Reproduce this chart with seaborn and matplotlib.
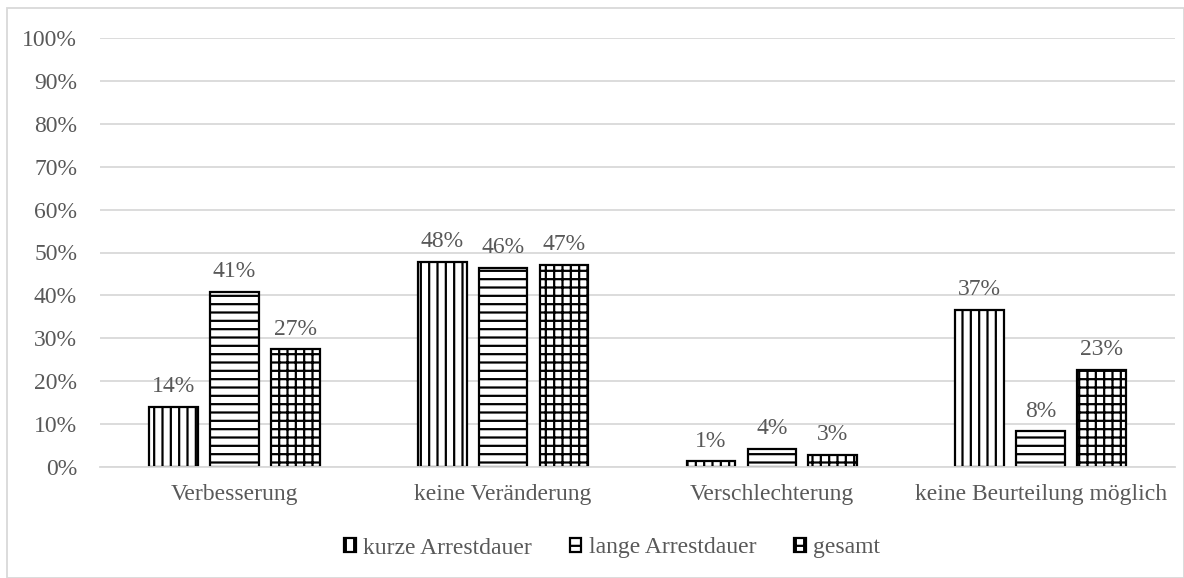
import matplotlib
matplotlib.use("Agg")
import matplotlib.pyplot as plt
import seaborn as sns
import pandas as pd
from matplotlib.patches import Rectangle

categories = ["Verbesserung", "keine Veränderung", "Verschlechterung", "keine Beurteilung möglich"]
groups = ["kurze Arrestdauer", "lange Arrestdauer", "gesamt"]
kurze = [14.1, 47.9, 1.3, 36.6]
lange = [40.8, 46.4, 4.2, 8.3]
gesamt = [27.4, 47.2, 2.8, 22.6]
yticks = list(range(0, 101, 10))

df = pd.DataFrame({
    "Kategorie": categories * 3,
    "Gruppe": [g for g in groups for _ in categories],
    "Wert": kurze + lange + gesamt,
})

sns.set_theme(style="white")
plt.rcParams["font.family"] = ["Liberation Serif", "DejaVu Serif"]
plt.rcParams["hatch.linewidth"] = 1.6
plt.rcParams["hatch.color"] = "black"

text_color = "#595959"
grid_color = "#d9d9d9"
fs = 17

fig = plt.figure(figsize=(11.84, 5.78), dpi=100)
ax = fig.add_axes([100 / 1184, 1 - 467 / 578, 1075 / 1184, (467 - 38) / 578])

sns.barplot(data=df, x="Kategorie", y="Wert", hue="Gruppe", order=categories,
            hue_order=groups, palette=["white"] * 3, edgecolor="black",
            linewidth=1.6, width=0.68, gap=0.2, ax=ax, legend=False)

hatches = ["||", "--", "++"]
for container, h in zip(ax.containers, hatches):
    for bar in container:
        bar.set_hatch(h)
    labels = [f"{v:.0f}%" for v in container.datavalues]
    ax.bar_label(container, labels=labels, padding=7, color=text_color, fontsize=fs)

ax.set_ylim(0, 100)
ax.set_yticks(yticks)
ax.set_yticklabels([f"{t}%" for t in yticks], color=text_color, fontsize=fs)
ax.tick_params(axis="y", length=0, pad=16.5)
ax.tick_params(axis="x", length=0, pad=12, labelcolor=text_color, labelsize=fs)
ax.set_xlabel("")
ax.set_ylabel("")
ax.yaxis.grid(True, color=grid_color, linewidth=1.3)
ax.set_axisbelow(True)
for side in ["left", "right", "top"]:
    ax.spines[side].set_visible(False)
ax.spines["bottom"].set_color(grid_color)
ax.spines["bottom"].set_linewidth(1.3)

handles = [Rectangle((0, 0), 1, 1, facecolor="white", edgecolor="black",
                     linewidth=1.6, hatch=h) for h in ["||", "--", "++"]]
fig.legend(handles, groups, loc="center", bbox_to_anchor=(612 / 1184, 1 - 548 / 578),
           ncol=3, frameon=False, fontsize=fs, labelcolor=text_color,
           handlelength=0.5, handleheight=0.5, handletextpad=0.3, columnspacing=1.6)

fig.patches.append(Rectangle((7 / 1184, 0), 1 - 7 / 1184, 1 - 8 / 578,
                             transform=fig.transFigure, fill=False,
                             edgecolor=grid_color, linewidth=1.3))

fig.savefig("out.png", dpi=100)
